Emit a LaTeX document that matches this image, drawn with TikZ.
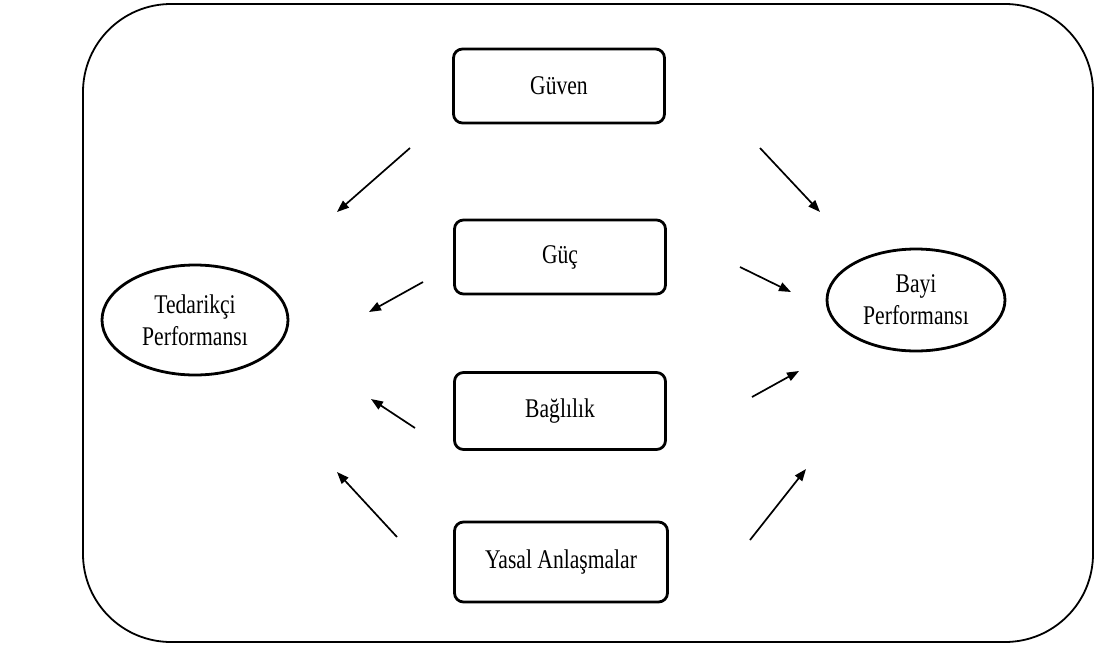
\documentclass[tikz,border=0pt]{standalone}
\usepackage{fontspec}
\setmainfont{Liberation Serif}[FakeStretch=0.8]
\usetikzlibrary{shapes.geometric,arrows.meta}
\tikzset{
  kutu/.style={draw, line width=2.8pt, rounded corners=9pt, minimum width=211pt, minimum height=74pt, font=\fontsize{27}{32}\selectfont},
  elips/.style={draw, ellipse, line width=2.8pt, font=\fontsize{27}{32}\selectfont, align=center},
  ok/.style={-{Triangle[length=12pt,width=9pt]}, line width=1.7pt},
}
\begin{document}
\begin{tikzpicture}[x=1pt,y=-1pt]
        \useasboundingbox (0,0) rectangle (1095,646);
        \draw[line width=1.8pt, rounded corners=88pt] (83,4) rectangle (1093,642);
        \node[kutu] (guven) at (559,86) {Güven};
        \node[kutu] (guc) at (560,257) {Güç};
        \node[kutu, minimum height=77pt] (baglilik) at (560,411) {Bağlılık};
        \node[kutu, minimum width=213pt, minimum height=80pt] (yasal) at (561,562) {Yasal Anlaşmalar};
        \node[elips, minimum width=186pt, minimum height=110pt, inner sep=0pt] (tedarikci) at (195,320) {Tedarikçi\\Performansı};
        \node[elips, minimum width=178pt, minimum height=102pt, inner sep=0pt] (bayi) at (916,300) {Bayi\\Performansı};
        % ok uclari
        \coordinate (g1) at (410,148); \coordinate (g2) at (337,212);
        \coordinate (g3) at (760,148); \coordinate (g4) at (820,212);
        \coordinate (c1) at (423,282); \coordinate (c2) at (369,312);
        \coordinate (c3) at (740,267); \coordinate (c4) at (791,292);
        \coordinate (b1) at (415,428); \coordinate (b2) at (371,399);
        \coordinate (b3) at (752,397); \coordinate (b4) at (799,371);
        \coordinate (y1) at (397,537); \coordinate (y2) at (337,472);
        \coordinate (y3) at (750,540); \coordinate (y4) at (806,469);
        \draw[ok] (g1) -- (g2);
        \draw[ok] (g3) -- (g4);
        \draw[ok] (c1) -- (c2);
        \draw[ok] (c3) -- (c4);
        \draw[ok] (b1) -- (b2);
        \draw[ok] (b3) -- (b4);
        \draw[ok] (y1) -- (y2);
        \draw[ok] (y3) -- (y4);
\end{tikzpicture}
\end{document}
